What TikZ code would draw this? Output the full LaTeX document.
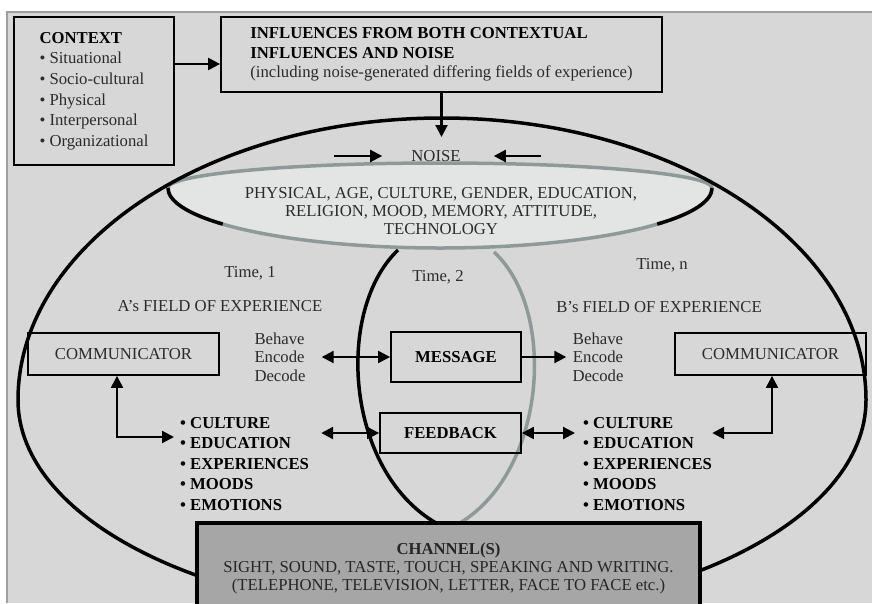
\documentclass[tikz,border=0pt]{standalone}
\usepackage{fontspec}
\setmainfont{Liberation Serif}
\definecolor{panelGray}{HTML}{D7D7D7}
\definecolor{edgeGray}{HTML}{9E9E9E}
\definecolor{noiseFill}{HTML}{E3E5E5}
\definecolor{rimGray}{HTML}{8E9A9A}
\definecolor{chanGray}{HTML}{A6A6A6}
\definecolor{txtGray}{HTML}{2B2B2B}
\usepackage{tikz}
\usetikzlibrary{arrows.meta}

\begin{document}
\begin{tikzpicture}[x=1pt, y=-1pt,
    every node/.style={font=\fontsize{16.7}{19.5}\selectfont, text=txtGray, inner sep=0pt},
    box/.style={draw=black, line width=1.8pt},
    bold/.style={text=black, font=\fontsize{16.7}{20.5}\selectfont\bfseries},
    arr/.style={line width=2.2pt, -{Triangle[length=12pt,width=12pt]}},
    darr/.style={line width=2.2pt, {Triangle[length=12pt,width=12pt]}-{Triangle[length=12pt,width=12pt]}}]
  \useasboundingbox (0,0) rectangle (872,603);
  % Panel
  \fill[white] (0,0) rectangle (872,603);
  \fill[panelGray] (7,12) rectangle (872,603);
  \draw[edgeGray, line width=1.5pt] (7,603) -- (7,12) -- (872,12);
  % Overlap of the two fields
  \draw[line width=3.5pt] (398,250) .. controls (335,310) and (345,470) .. (436,523);
  \draw[rimGray, line width=3.5pt] (494,252) .. controls (557,310) and (547,470) .. (460,523);
  % Noise ellipse
  \draw[rimGray, fill=noiseFill, line width=3.5pt] (168,188)
    arc[start angle=180, end angle=360, x radius=272, y radius=25]
    arc[start angle=0, end angle=180, x radius=272, y radius=60] -- cycle;
  % Fields of experience
  \draw[line width=3.5pt] (18,400)
    arc[start angle=180, end angle=360, x radius=424, y radius=282]
    arc[start angle=0, end angle=180, x radius=424, y radius=215];
  \draw[line width=3.5pt] (168,188) arc[start angle=180, end angle=143, x radius=272, y radius=60];
  \draw[line width=3.5pt] (712,188) arc[start angle=0, end angle=37, x radius=272, y radius=60];

  % Context and influences
  \node[box, minimum width=160pt, minimum height=148pt, align=left,
        font=\fontsize{16.7}{20.6}\selectfont] (context) at (94,91)
    {{\bfseries\color{black}CONTEXT}\\ \textbullet\ Situational\\ \textbullet\ Socio-cultural\\
     \textbullet\ Physical\\ \textbullet\ Interpersonal\\ \textbullet\ Organizational};
  \node[box, minimum width=441pt, minimum height=75pt, align=left] (influences) at (441.5,54.5)
    {{\bfseries\color{black}INFLUENCES FROM BOTH CONTEXTUAL}\\
     {\bfseries\color{black}INFLUENCES AND NOISE}\\
     (including noise-generated differing fields of experience)};
  \coordinate (ctxout) at ([yshift=27pt]context.east);
  \draw[arr] (ctxout) -- (ctxout -| influences.west);
  \coordinate (noisetop) at (441.5,137);
  \draw[arr] (influences.south) -- (noisetop);

  % Noise
  \node (noiselbl) at (436,156) {NOISE};
  \draw[arr] ([xshift=-77pt]noiselbl.west) -- ([xshift=-29pt]noiselbl.west);
  \draw[arr] ([xshift=80pt]noiselbl.east) -- ([xshift=33pt]noiselbl.east);
  \node[align=center, font=\fontsize{16.7}{18}\selectfont] (noisetxt) at (441,211)
    {PHYSICAL, AGE, CULTURE, GENDER, EDUCATION,\\ RELIGION, MOOD, MEMORY, ATTITUDE,\\ TECHNOLOGY};

  % Times and fields
  \node (time1) at (250,273) {Time, 1};
  \node (time2) at (438,277) {Time, 2};
  \node (timen) at (662,265) {Time, n};
  \node (fieldA) at (220,306) {A's FIELD OF EXPERIENCE};
  \node (fieldB) at (659,307) {B's FIELD OF EXPERIENCE};

  % Communicators and message
  \node[box, minimum width=191pt, minimum height=42pt] (commA) at (123.5,354) {COMMUNICATOR};
  \node[box, minimum width=191pt, minimum height=42pt] (commB) at (770.5,354) {COMMUNICATOR};
  \node[align=left, font=\fontsize{16.7}{18.5}\selectfont] (codeA) at (280,357) {Behave\\Encode\\Decode};
  \node[align=center, font=\fontsize{16.7}{18.5}\selectfont] (codeB) at (598,357) {Behave\\Encode\\Decode};
  \node[box, bold, minimum width=130pt, minimum height=50pt] (message) at (456,357) {MESSAGE};
  \node[box, bold, minimum width=141pt, minimum height=40pt] (feedback) at (450.5,433) {FEEDBACK};
  \draw[darr] ([xshift=16pt]codeA.east) -- (message.west);
  \draw[arr] (message.east) -- ([xshift=-6pt]codeB.west);

  % Personal factors
  \node[bold, align=left, anchor=west] (listA) at (180,464)
    {\textbullet\ CULTURE\\ \textbullet\ EDUCATION\\ \textbullet\ EXPERIENCES\\ \textbullet\ MOODS\\ \textbullet\ EMOTIONS};
  \node[bold, align=left, anchor=west] (listB) at (583,464)
    {\textbullet\ CULTURE\\ \textbullet\ EDUCATION\\ \textbullet\ EXPERIENCES\\ \textbullet\ MOODS\\ \textbullet\ EMOTIONS};
  \coordinate (fbL) at (feedback.west -| listA.east);
  \coordinate (fbR) at (feedback.east -| listB.west);
  \draw[darr] ([xshift=12pt]fbL) -- (feedback.west);
  \draw[darr] (feedback.east) -- ([xshift=-8pt]fbR);
  \coordinate (lstA) at ([xshift=-6pt,yshift=27pt]listA.west);
  \coordinate (lstB) at ([xshift=0pt,yshift=31pt]listB.east);
  \draw[darr] (lstA) -| ([xshift=-6.5pt]commA.south);
  \draw[darr] (lstB) -| ([xshift=1.5pt]commB.south);

  % Channel
  \node[draw=black, line width=4.5pt, fill=chanGray, minimum width=503pt, minimum height=90pt,
        align=center, text=black!85, font=\fontsize{16.7}{18}\selectfont] (channel) at (448.5,568)
    {\textbf{CHANNEL(S)}\\ SIGHT, SOUND, TASTE, TOUCH, SPEAKING AND WRITING.\\
     (TELEPHONE, TELEVISION, LETTER, FACE TO FACE etc.)};
\end{tikzpicture}
\end{document}
